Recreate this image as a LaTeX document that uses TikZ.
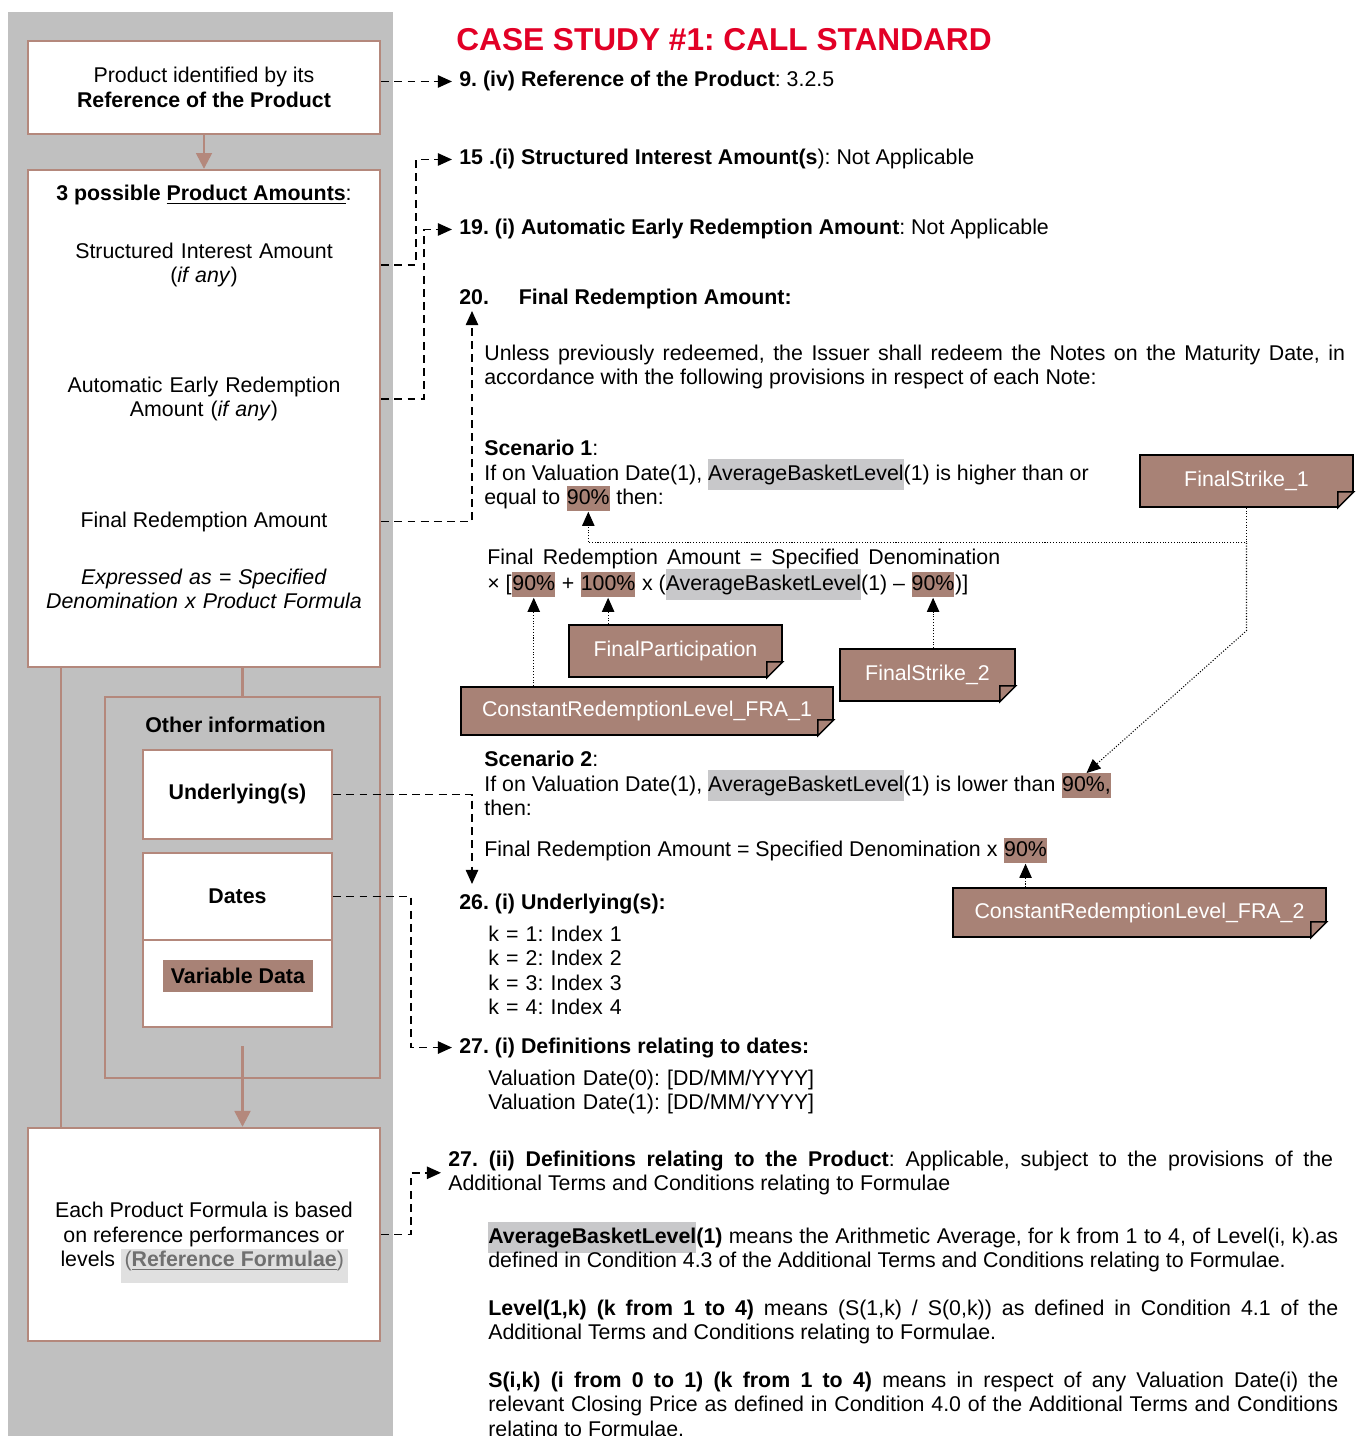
\documentclass[tikz,border=0pt]{standalone}
\usepackage{fontspec}
\setmainfont{Liberation Sans}
\usetikzlibrary{arrows.meta}

\definecolor{panelgray}{RGB}{192,192,192}
\definecolor{boxbrown}{RGB}{180,136,124}
\definecolor{notebrown}{RGB}{168,130,118}
\definecolor{hlgray}{RGB}{200,200,202}
\definecolor{titlered}{RGB}{226,0,38}
\definecolor{refgray}{RGB}{112,112,112}
\definecolor{refbg}{RGB}{224,224,224}

\hyphenpenalty=10000
\exhyphenpenalty=10000
\tolerance=9999
\frenchspacing

\newcommand{\bodysize}{\fontsize{12.15}{14}\selectfont}
\newcommand{\hlg}[1]{{\setlength{\fboxsep}{0pt}\raisebox{0pt}[\height][0pt]{\colorbox{hlgray}{\rule[-0.45em]{0pt}{1.45em}#1}}}}
\newcommand{\refHint}[1]{{\setlength{\fboxsep}{0pt}\raisebox{0pt}[\height][0pt]{\colorbox{refbg}{\rule[-0.75em]{0pt}{1.6em}\hspace{2pt}\color{refgray}(\textbf{\underline{#1}})\hspace{2pt}}}}}
\newcommand{\noteLabelled}[6][]{
	\path (#2,#3) node[note, minimum width=#4, #1](#5){#6};
	\fill[white] ([xshift=1pt,yshift=-1pt]#5.south east) -- ([xshift=1pt,yshift=9pt]#5.south east) -- ([yshift=9pt]#5.south east) -- ([xshift=-9pt]#5.south east) -- ([xshift=-9pt,yshift=-1pt]#5.south east) -- cycle;
	\filldraw[fill=notebrown, draw=black, line width=0.8pt] ([yshift=9pt]#5.south east) -- ([xshift=-9pt,yshift=9pt]#5.south east) -- ([xshift=-9pt]#5.south east) -- cycle;
}

\tikzset{
	panel/.style={draw=boxbrown, line width=1.4pt, fill=white, inner sep=0pt},
	otherframe/.style={draw=boxbrown, line width=1.4pt, inner sep=0pt},
	flow/.style={draw=boxbrown, line width=1.4pt, -{Triangle[length=9pt,width=9pt]}},
	trunk/.style={draw=boxbrown, line width=1.4pt},
	link/.style={dash pattern=on 4.5pt off 3pt, line width=0.9pt, -{Triangle[length=8pt,width=7pt]}},
	hint/.style={densely dotted, line width=0.6pt, -{Triangle[length=8pt,width=7pt]}},
	txt/.style={anchor=base west, inner sep=0pt},
	para/.style={txt, align=justify},
	pct/.style={anchor=base west, fill=notebrown, inner sep=0pt, text height=1.0em, text depth=0.42em},
	note/.style={fill=notebrown, draw=black, line width=0.8pt, text=white, minimum height=1.04cm, inner sep=0pt}
}

\begin{document}
\begin{tikzpicture}[x=0.02cm, y=-0.02cm, font=\bodysize]
	\useasboundingbox (0,0) rectangle (1355,1436);
	\fill[panelgray] (8,12) rectangle (393,1436);

	\node[panel, minimum width=7.04cm, minimum height=1.86cm, align=center] (refbox) at (204,87.5) {Product identified by its\\\textbf{Reference of the Product}};
	\node[panel, minimum width=7.04cm, minimum height=9.94cm] (amountbox) at (204,418.5) {};
	\node[otherframe, minimum width=5.5cm, minimum height=7.62cm] (otherbox) at (242.5,887.5) {};
	\node[panel, minimum width=3.78cm, minimum height=1.78cm] (underbox) at (237.5,794.5) {\textbf{Underlying(s)}};
	\node[panel, minimum width=3.78cm, minimum height=1.74cm] (datesbox) at (237.5,896.5) {\textbf{Dates}};
	\node[panel, minimum width=3.78cm, minimum height=1.74cm] (varbox) at (237.5,983.5) {};
	\node[fill=notebrown, minimum width=3cm, minimum height=0.64cm, inner sep=0pt] (vardata) at (238,976) {\textbf{Variable Data}};
	\node[panel, minimum width=7.04cm, minimum height=4.26cm, align=center] (formulabox) at (204,1234.5) {Each Product Formula is based\\on reference performances or\\levels \refHint{Reference Formulae}};

	\node[anchor=base, inner sep=0pt] (amthead) at (204,201) {\textbf{3 possible \underline{Product Amounts}}:};
	\node[anchor=base, inner sep=0pt, text width=6.8cm, align=center] (amtsia) at (204,258) {Structured Interest Amount\\(\textit{if any})};
	\node[anchor=base, inner sep=0pt, text width=6.8cm, align=center] (amtaer) at (204,392) {Automatic Early Redemption\\Amount (\textit{if any})};
	\node[anchor=base, inner sep=0pt] (amtfra) at (204,527) {Final Redemption Amount};
	\node[anchor=base, inner sep=0pt, text width=6.8cm, align=center] (amtexpr) at (204,584) {\textit{Expressed as = Specified}\\\textit{Denomination x Product Formula}};
	\node[anchor=base, inner sep=0pt] (othertitle) at (235.5,732) {\textbf{Other information}};

	\coordinate (spine) at (61,700);
	\coordinate (stub) at (242.5,1046);
	\draw[flow] (refbox) -- (amountbox);
	\draw[trunk] (amountbox.south -| spine) -- (formulabox.north -| spine);
	\draw[trunk] (amountbox.south -| otherbox.north) -- (otherbox.north);
	\draw[flow] (stub) -- (stub |- formulabox.north);

	\node[anchor=base, inner sep=0pt, font=\fontsize{18}{20}\selectfont\bfseries, text=titlered] (title) at (724,51) {CASE STUDY \#1: CALL STANDARD};

	\node[txt] (h9) at (459,87) {\textbf{9. (iv) Reference of the Product}: 3.2.5};
	\node[txt] (h15) at (459,165) {\textbf{15 .(i) Structured Interest Amount(s}): Not Applicable};
	\node[txt] (h19) at (459,235) {\textbf{19. (i) Automatic Early Redemption Amount}: Not Applicable};
	\node[txt] (h20) at (459,304) {\textbf{20.}\hspace{17pt}\textbf{Final Redemption Amount:}};
	\node[para, text width=17.22cm] (intro) at (484,360) {Unless previously redeemed, the Issuer shall redeem the Notes on the Maturity Date, in\linebreak accordance with the following provisions in respect of each Note:};

	\node[txt] (sc1) at (484,455) {\textbf{Scenario 1}:};
	\node[txt] (s1a) at (484,480) {If on Valuation Date(1), \hlg{AverageBasketLevel}(1) is higher than or};
	\node[txt] (s1b) at (484,504) {equal to\ \null};
	\node[pct] (pct1) at (s1b.base east) {90\%};
	\node[txt] (s1c) at (pct1.base east) {~then:};

	\node[txt] (f1) at (487,564) {\makebox[10.26cm][s]{Final Redemption Amount = Specified Denomination}};
	\node[txt] (f2a) at (487,590) {× [};
	\node[pct] (pct2) at (f2a.base east) {90\%};
	\node[txt] (f2b) at (pct2.base east) {~+\ \null};
	\node[pct] (pct3) at (f2b.base east) {100\%};
	\node[txt] (f2c) at (pct3.base east) {~x (\hlg{AverageBasketLevel}(1) –\ \null};
	\node[pct] (pct4) at (f2c.base east) {90\%};
	\node[txt] (f2d) at (pct4.base east) {)]};

	\node[txt] (sc2) at (484,766) {\textbf{Scenario 2}:};
	\node[txt] (s2a) at (484,791) {If on Valuation Date(1), \hlg{AverageBasketLevel}(1) is lower than\ \null};
	\node[pct] (pct5) at (s2a.base east) {90\%,};
	\node[txt] (s2b) at (484,815) {then:};
	\node[txt] (f3a) at (484,856) {Final Redemption Amount = Specified Denomination x\ \null};
	\node[pct] (pct6) at (f3a.base east) {90\%};

	\noteLabelled{1246.5}{481}{4.26cm}{fs1}{FinalStrike\_1};
	\noteLabelled{675.5}{651}{4.26cm}{fp}{FinalParticipation};
	\noteLabelled{927.5}{675}{3.5cm}{fs2}{FinalStrike\_2};
	\noteLabelled[minimum height=0.96cm]{647}{711}{7.44cm}{fra1}{ConstantRedemptionLevel\_FRA\_1};
	\noteLabelled[minimum height=0.98cm]{1139.5}{912.5}{7.46cm}{fra2}{ConstantRedemptionLevel\_FRA\_2};

	\node[txt] (h26) at (459,909) {\textbf{26. (i) Underlying(s):}};
	\node[txt, text width=6cm, align=left] (idx) at (488,941) {k = 1: Index 1\\k = 2: Index 2\\k = 3: Index 3\\k = 4: Index 4};
	\node[txt] (h27a) at (459,1053) {\textbf{27. (i) Definitions relating to dates:}};
	\node[txt, text width=8cm, align=left] (dates) at (488,1085) {Valuation Date(0): [DD/MM/YYYY]\\Valuation Date(1): [DD/MM/YYYY]};
	\node[para, text width=17.7cm] (h27b) at (448,1166) {\textbf{27. (ii) Definitions relating to the Product}: Applicable, subject to the provisions of the\linebreak Additional Terms and Conditions relating to Formulae};
	\node[para, text width=17cm] (def1) at (488,1243) {\hlg{\textbf{AverageBasketLevel}}\textbf{(1)} means the Arithmetic Average, for k from 1 to 4, of Level(i, k).as\linebreak defined in Condition 4.3 of the Additional Terms and Conditions relating to Formulae.};
	\node[para, text width=17cm] (def2) at (488,1315) {\textbf{Level(1,k) (k from 1 to 4)} means (S(1,k) / S(0,k)) as defined in Condition 4.1 of the\linebreak Additional Terms and Conditions relating to Formulae.};
	\node[para, text width=17cm] (def3) at (488,1387) {\textbf{S(i,k) (i from 0 to 1) (k from 1 to 4)} means in respect of any Valuation Date(i) the\linebreak relevant Closing Price as defined in Condition 4.0 of the Additional Terms and Conditions\linebreak relating to Formulae.};

	\coordinate (tip20) at (472,311);
	\coordinate (tip26) at (472,884);
	\draw[link, shorten >=4pt] (refbox.east |- h9.west) -- (h9.west);
	\draw[link, shorten >=4pt] (amountbox.east |- amtsia) -- ++(35,0) |- (h15.west);
	\draw[link, shorten >=4pt] (amountbox.east |- amtaer) -- ++(43,0) |- (h19.west);
	\draw[link] (amountbox.east |- amtfra) -| (tip20);
	\draw[link] (underbox.east) -| (tip26);
	\draw[link, shorten >=4pt] (datesbox.east) -- ++(78,0) |- (h27a.west);
	\draw[link, shorten >=4pt] (formulabox.east) -- ++(30,0) |- (h27b.west);

	\coordinate (jn1) at ([yshift=-20pt]fs1.south);
	\coordinate (bend1) at ([yshift=-70pt]fs1.south);
	\draw[hint] (fs1.south) -- (jn1) -| (pct1.south);
	\draw[hint] (jn1) -- (bend1) -- (pct5.north);
	\draw[hint] (fra1.north -| pct2.south) -- (pct2.south);
	\draw[hint] (fp.north -| pct3.south) -- (pct3.south);
	\draw[hint] (fs2.north -| pct4.south) -- (pct4.south);
	\draw[hint] (fra2.north -| pct6.south) -- (pct6.south);
\end{tikzpicture}
\end{document}
